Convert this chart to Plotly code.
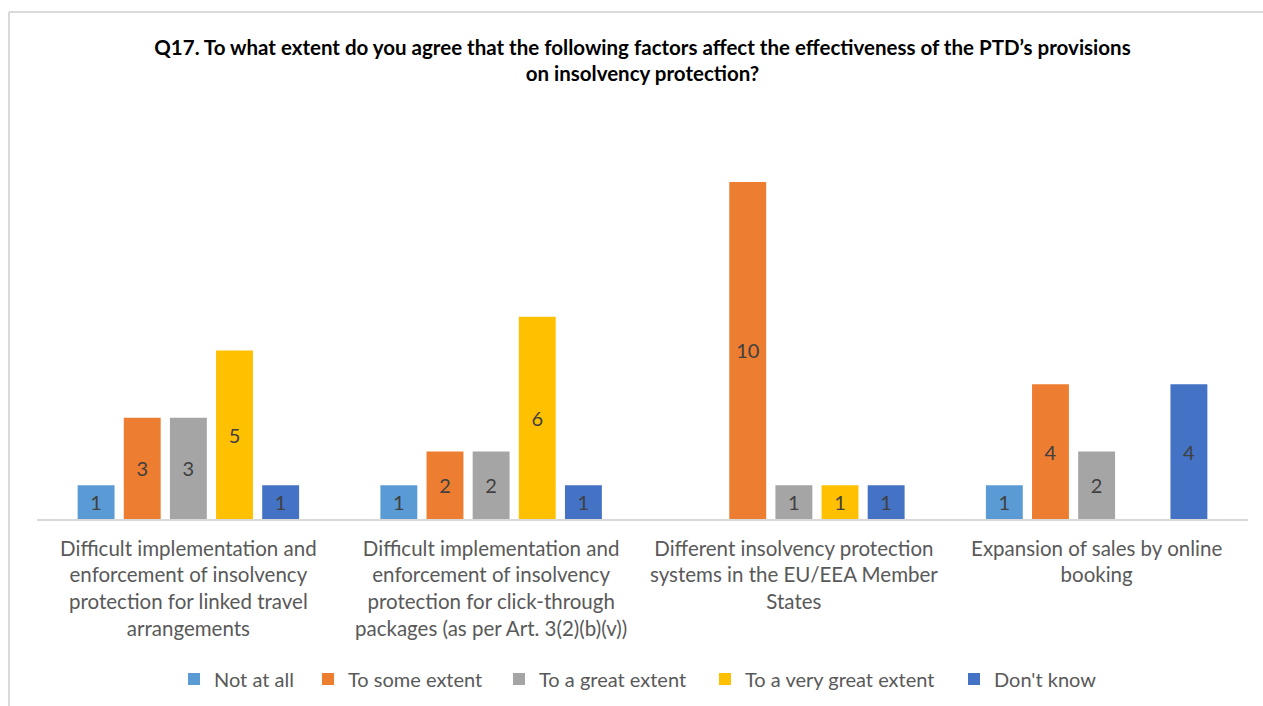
import plotly.graph_objects as go

categories = [
    "Difficult implementation and<br>enforcement of insolvency<br>protection for linked travel<br>arrangements",
    "Difficult implementation and<br>enforcement of insolvency<br>protection for click-through<br>packages (as per Art. 3(2)(b)(v))",
    "Different insolvency protection<br>systems in the EU/EEA Member<br>States",
    "Expansion of sales by online<br>booking",
]

not_at_all = [1, 1, None, 1]
to_some_extent = [3, 2, 10, 4]
to_a_great_extent = [3, 2, 1, 2]
to_a_very_great_extent = [5, 6, 1, None]
dont_know = [1, 1, 1, 4]

series_names = ["Not at all", "To some extent", "To a great extent",
                "To a very great extent", "Don't know"]
series_values = [not_at_all, to_some_extent, to_a_great_extent,
                 to_a_very_great_extent, dont_know]
series_colors = ["#5B9BD5", "#ED7D31", "#A5A5A5", "#FFC000", "#4472C4"]

# left edge (px) of each legend entry along the bottom row
legend_left_px = [174, 308, 499, 705, 954]
legend_ids = ["legend", "legend2", "legend3", "legend4", "legend5"]

FONT = "Lato"
W, H = 1263, 706

fig = go.Figure()
for name, vals, color, lid in zip(series_names, series_values, series_colors, legend_ids):
    fig.add_trace(go.Bar(
        name=name,
        x=categories,
        y=vals,
        legend=lid,
        marker=dict(color=color, line=dict(width=0)),
        text=[("" if v is None else str(v)) for v in vals],
        textposition="inside",
        insidetextanchor="middle",
        textangle=0,
        textfont=dict(family=FONT, size=20, color="#404040"),
        hoverinfo="skip",
    ))

legend_style = dict(
    orientation="h",
    xref="container",
    yref="container",
    xanchor="left",
    y=1 - 679 / H,
    yanchor="middle",
    font=dict(family=FONT, size=20, color="#595959"),
    itemwidth=30,
    bgcolor="rgba(0,0,0,0)",
)
legend_layout = {
    lid: dict(legend_style, x=px / W)
    for lid, px in zip(legend_ids, legend_left_px)
}

fig.update_layout(
    width=W,
    height=H,
    barmode="group",
    bargap=0.238,
    bargroupgap=0.2,
    paper_bgcolor="white",
    plot_bgcolor="white",
    margin=dict(l=37, r=15, t=130, b=187, autoexpand=False),
    title=dict(
        text="<b>Q17. To what extent do you agree that the following factors affect the effectiveness of the PTD’s provisions<br>on insolvency protection?</b>",
        x=0.5087,
        xanchor="center",
        y=0.9225,
        yanchor="middle",
        font=dict(family=FONT, size=20.5, color="#000000"),
    ),
    xaxis=dict(
        showline=True,
        linecolor="#D9D9D9",
        linewidth=2,
        showgrid=False,
        ticks="",
        automargin=False,
        ticklabelstandoff=10,
        tickfont=dict(family=FONT, size=20.5, color="#595959"),
    ),
    yaxis=dict(
        range=[0, 11.54],
        showgrid=False,
        showticklabels=False,
        zeroline=False,
        showline=False,
        automargin=False,
    ),
    showlegend=True,
    uniformtext=dict(mode="show", minsize=10),
    shapes=[
        # light frame along the left and top edges
        dict(type="line", xref="paper", yref="paper",
             x0=(9 - 37) / 1211, x1=(1263 - 37) / 1211,
             y0=(519 - 12) / 389, y1=(519 - 12) / 389,
             line=dict(color="#D9D9D9", width=2)),
        dict(type="line", xref="paper", yref="paper",
             x0=(9 - 37) / 1211, x1=(9 - 37) / 1211,
             y0=(519 - 12) / 389, y1=(519 - 706) / 389,
             line=dict(color="#D9D9D9", width=2)),
    ],
    **legend_layout,
)

fig.write_html("out.html")
